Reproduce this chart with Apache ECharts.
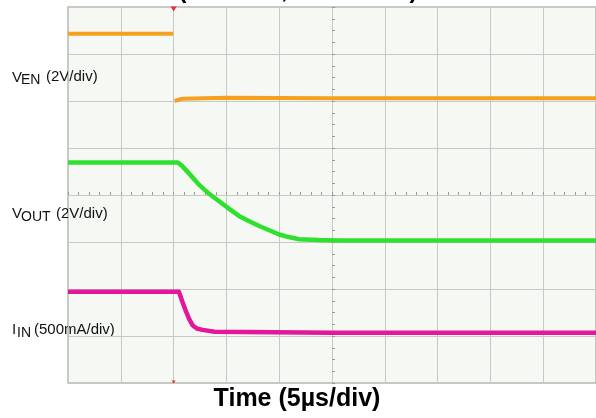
<!DOCTYPE html>
<html>
<head>
<meta charset="utf-8">
<script src="https://cdn.jsdelivr.net/npm/echarts@6/dist/echarts.min.js"></script>
<style>
  html, body { margin: 0; padding: 0; background: #ffffff; }
  #chart { width: 596px; height: 418px; }
</style>
</head>
<body>
<div id="chart"></div>
<script>
// Time axis in µs (5 µs/div), vertical values in screen divisions
const xTicks = [-25, -20, -15, -10, -5, 0, 5, 10, 15, 20, 25];

const venT = [-25, -15.05, -15.05, -14.9, -14.2, -10, 0, 25];
const ven  = [3.43, 3.43, null, 2.00, 2.05, 2.07, 2.06, 2.06];

const voutT = [-25, -14.6, -14.2, -13.5, -12.55, -11.6, -10.66, -9.7, -8.77, -7.83, -6.89, -5.94, -5.0, -4.0, -3.11, -1.23, 0.66, 25];
const vout  = [0.69, 0.69, 0.62, 0.45, 0.21, 0.02, -0.14, -0.30, -0.45, -0.56, -0.66, -0.75, -0.84, -0.90, -0.94, -0.96, -0.97, -0.97];

const iinT = [-25, -14.5, -14.15, -13.77, -13.5, -13.21, -12.8, -12.26, -11.13, 0, 25];
const iin  = [-2.06, -2.06, -2.28, -2.51, -2.65, -2.77, -2.84, -2.87, -2.91, -2.93, -2.93];

const triggerT = -15;

function pairs(t, v) { return t.map((x, i) => [x, v[i] === null ? '-' : v[i]]); }

const gridColor = '#c6cac6';
const FONT = '"Liberation Sans", Arial, sans-serif';

const chart = echarts.init(document.getElementById('chart'), null, { renderer: 'canvas' });
chart.setOption({
  animation: false,
  backgroundColor: '#ffffff',
  grid: { left: 68, right: -2, top: 7, bottom: 35, show: true, backgroundColor: '#f6f8f3', borderColor: '#b4b8b4', borderWidth: 1.5 },
  xAxis: {
    type: 'value', min: -25, max: 25, interval: 5,
    axisLabel: { show: false },
    axisLine: { show: true, onZero: true, lineStyle: { color: gridColor, width: 1 } },
    axisTick: { show: true, inside: true, length: 3, lineStyle: { color: '#999' } },
    minorTick: { show: true, splitNumber: 5, length: 3, lineStyle: { color: '#999' } },
    splitLine: { show: true, lineStyle: { color: gridColor, width: 1 } }
  },
  yAxis: {
    type: 'value', min: -4, max: 4, interval: 1,
    axisLabel: { show: false },
    axisLine: { show: true, onZero: true, lineStyle: { color: gridColor, width: 1 } },
    axisTick: { show: true, inside: true, length: 3, lineStyle: { color: '#999' } },
    minorTick: { show: true, splitNumber: 4, length: 3, lineStyle: { color: '#999' } },
    splitLine: { show: true, lineStyle: { color: gridColor, width: 1 } }
  },
  series: [
    {
      name: 'VEN', type: 'line', data: pairs(venT, ven), showSymbol: false, connectNulls: false,
      lineStyle: { color: '#f5a01e', width: 4, join: 'round' }, itemStyle: { color: '#f5a01e' }, z: 5,
      markPoint: {
        silent: true, symbol: 'triangle', symbolSize: [6, 5], symbolRotate: 180,
        itemStyle: { color: '#e03030' }, label: { show: false },
        data: [{ coord: [triggerT, 4] , symbolOffset: [0, 2]}, { coord: [triggerT, -4], symbolSize: [4, 3], symbolOffset: [0, -1] }]
      }
    },
    {
      name: 'VOUT', type: 'line', data: pairs(voutT, vout), showSymbol: false,
      lineStyle: { color: '#2fe02f', width: 4.5, join: 'round' }, itemStyle: { color: '#2fe02f' }, z: 5
    },
    {
      name: 'IIN', type: 'line', data: pairs(iinT, iin), showSymbol: false,
      lineStyle: { color: '#e3169c', width: 4.5, join: 'round' }, itemStyle: { color: '#e3169c' }, z: 5
    }
  ],
  graphic: [
    { type: 'text', left: 'center', top: -21, style: { text: '(VIN = 5V, IOUT = 0A)', font: 'bold 24px ' + FONT, fill: '#000' } },
    { type: 'text', x: 12, y: 77.5, style: { text: 'V', font: '15px ' + FONT, fill: '#111', verticalAlign: 'middle' } },
    { type: 'text', x: 21, y: 80.5, style: { text: 'EN', font: '14px ' + FONT, fill: '#111', verticalAlign: 'middle' } },
    { type: 'text', x: 46, y: 77, style: { text: '(2V/div)', font: '15px ' + FONT, fill: '#111', verticalAlign: 'middle' } },

    { type: 'text', x: 12, y: 214, style: { text: 'V', font: '15px ' + FONT, fill: '#111', verticalAlign: 'middle' } },
    { type: 'text', x: 21, y: 217, style: { text: 'OUT', font: '14px ' + FONT, fill: '#111', verticalAlign: 'middle' } },
    { type: 'text', x: 56, y: 213.5, style: { text: '(2V/div)', font: '15px ' + FONT, fill: '#111', verticalAlign: 'middle' } },

    { type: 'text', x: 12, y: 330, style: { text: 'I', font: '15px ' + FONT, fill: '#111', verticalAlign: 'middle' } },
    { type: 'text', x: 17, y: 333, style: { text: 'IN', font: '14px ' + FONT, fill: '#111', verticalAlign: 'middle' } },
    { type: 'text', x: 34, y: 329.5, style: { text: '(500mA/div)', font: '15px ' + FONT, fill: '#111', verticalAlign: 'middle' } },

    { type: 'text', x: 297, y: 399, style: { text: 'Time (5µs/div)', font: 'bold 25px ' + FONT, fill: '#000', align: 'center', verticalAlign: 'middle' } }
  ]
});
</script>
</body>
</html>
